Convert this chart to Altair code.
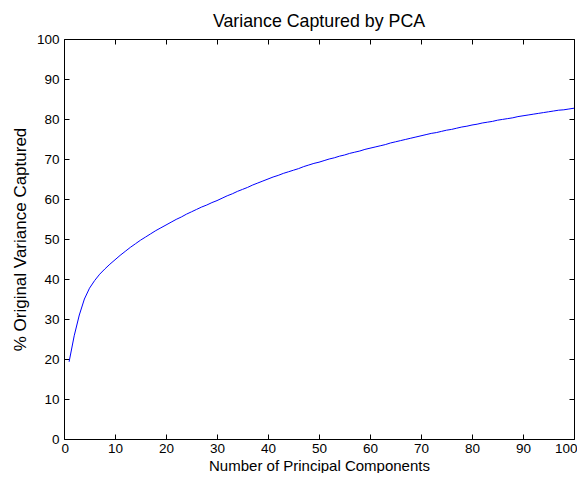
import altair as alt
import pandas as pd

components = list(range(1, 101))
variance = [
    19.3, 25.8, 31.0, 35.0, 37.7, 39.6, 41.2, 42.5, 43.7, 44.8,
    45.9, 46.9, 47.9, 48.8, 49.7, 50.5, 51.3, 52.1, 52.8, 53.5,
    54.2, 54.9, 55.5, 56.2, 56.8, 57.4, 58.0, 58.5, 59.1, 59.6,
    60.2, 60.8, 61.3, 61.9, 62.4, 62.9, 63.5, 64.0, 64.5, 65.0,
    65.5, 65.9, 66.4, 66.8, 67.2, 67.6, 68.1, 68.5, 68.9, 69.2,
    69.6, 70.0, 70.3, 70.7, 71.0, 71.4, 71.7, 72.0, 72.4, 72.7,
    73.0, 73.3, 73.6, 74.0, 74.3, 74.6, 74.9, 75.2, 75.5, 75.8,
    76.1, 76.4, 76.6, 76.9, 77.2, 77.4, 77.7, 78.0, 78.2, 78.5,
    78.7, 79.0, 79.2, 79.4, 79.7, 79.9, 80.1, 80.3, 80.6, 80.8,
    81.0, 81.2, 81.4, 81.6, 81.8, 82.0, 82.2, 82.3, 82.5, 82.7,
]
x_ticks = list(range(0, 101, 10))
y_ticks = list(range(0, 101, 10))

title_text = "Variance Captured by PCA"
x_title = "Number of Principal Components"
y_title = "% Original Variance Captured"

df = pd.DataFrame({"n": components, "v": variance})

FONT = "Liberation Sans"
xs = alt.Scale(domain=[0, 100], nice=False, zero=False)
ys = alt.Scale(domain=[0, 100], nice=False, zero=False)

common = dict(offset=-5, tickSize=5, domain=False, grid=False, tickColor="black", tickWidth=1)

line = alt.Chart(df).mark_line(color="#0000ff", strokeWidth=1).encode(
    x=alt.X("n:Q", scale=xs, axis=alt.Axis(
        orient="bottom", values=x_ticks, title=x_title, format="d",
        labelPadding=2, labelFlush=True, labelFlushOffset=3,
        titleY=36, titleBaseline="alphabetic", titleFontSize=15, **common)),
    y=alt.Y("v:Q", scale=ys, axis=alt.Axis(
        orient="left", values=y_ticks, title=y_title, format="d",
        labelPadding=5, titleX=-44, titleBaseline="alphabetic", **common)),
)

frame = alt.Chart(df).mark_line(opacity=0).encode(
    x=alt.X("n:Q", scale=xs, axis=alt.Axis(orient="top", values=x_ticks, title="", labels=False, **common)),
    y=alt.Y("v:Q", scale=ys, axis=alt.Axis(orient="right", values=y_ticks, title="", labels=False, **common)),
)

chart = alt.layer(line, frame).resolve_axis(x="independent", y="independent").properties(
    width=510,
    height=400,
    autosize=alt.AutoSizeParams(type="none"),
    padding={"left": 56, "top": 31, "right": 3, "bottom": 34},
    background="white",
    title=alt.TitleParams(title_text, font=FONT, fontSize=17.8, fontWeight="normal", color="black",
                          anchor="middle", offset=1),
).configure_view(stroke="black", strokeWidth=1).configure_axis(
    labelFont=FONT, labelFontSize=13.5, labelColor="black",
    titleFont=FONT, titleFontSize=17, titleFontWeight="normal", titleColor="black",
)

chart.save("out.html", embed_options={"renderer": "svg", "actions": False})
